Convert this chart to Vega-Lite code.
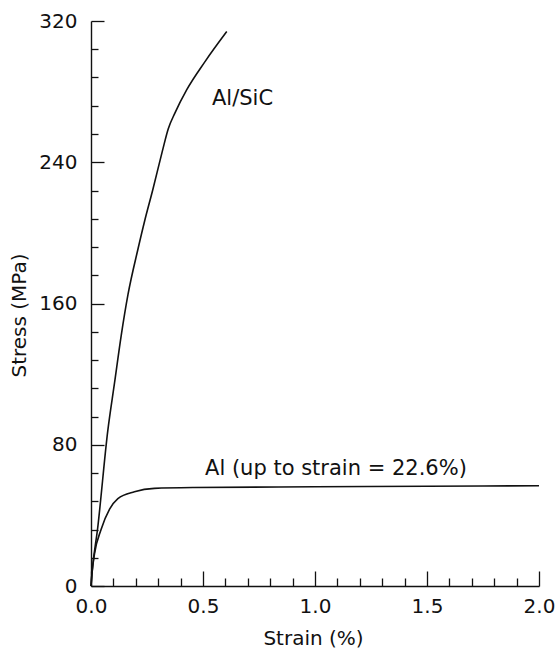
{
  "$schema": "https://vega.github.io/schema/vega-lite/v6.json",
  "width": 448,
  "height": 565,
  "autosize": {"type": "none"},
  "padding": {"left": 91, "top": 21, "right": 19, "bottom": 63},
  "background": "white",
  "config": {
    "view": {"stroke": null},
    "font": "DejaVu Sans",
    "axis": {
      "grid": false,
      "domainColor": "#111",
      "domainWidth": 1.4,
      "tickColor": "#111",
      "tickWidth": 1.3,
      "labelColor": "#111",
      "titleColor": "#111",
      "labelFont": "DejaVu Sans",
      "titleFont": "DejaVu Sans",
      "labelFontSize": 20,
      "titleFontSize": 20,
      "titleFontWeight": "normal",
      "labelFlush": false,
      "labelOverlap": false
    }
  },
  "datasets": {
    "curves": [
      {"material": "Al/SiC", "strain": 0.0, "stress": 0},
      {"material": "Al/SiC", "strain": 0.005, "stress": 8},
      {"material": "Al/SiC", "strain": 0.03, "stress": 33},
      {"material": "Al/SiC", "strain": 0.075, "stress": 88},
      {"material": "Al/SiC", "strain": 0.105, "stress": 115},
      {"material": "Al/SiC", "strain": 0.135, "stress": 142},
      {"material": "Al/SiC", "strain": 0.165, "stress": 165},
      {"material": "Al/SiC", "strain": 0.21, "stress": 191},
      {"material": "Al/SiC", "strain": 0.24, "stress": 207},
      {"material": "Al/SiC", "strain": 0.275, "stress": 224},
      {"material": "Al/SiC", "strain": 0.318, "stress": 246},
      {"material": "Al/SiC", "strain": 0.345, "stress": 259},
      {"material": "Al/SiC", "strain": 0.375, "stress": 268},
      {"material": "Al/SiC", "strain": 0.427, "stress": 281},
      {"material": "Al/SiC", "strain": 0.509, "stress": 297},
      {"material": "Al/SiC", "strain": 0.606, "stress": 314},
      {"material": "Al", "strain": 0.0, "stress": 0},
      {"material": "Al", "strain": 0.005, "stress": 8},
      {"material": "Al", "strain": 0.016, "stress": 18.5},
      {"material": "Al", "strain": 0.045, "stress": 32},
      {"material": "Al", "strain": 0.083, "stress": 43.5},
      {"material": "Al", "strain": 0.12, "stress": 49.5},
      {"material": "Al", "strain": 0.194, "stress": 53.4},
      {"material": "Al", "strain": 0.283, "stress": 55.3},
      {"material": "Al", "strain": 0.46, "stress": 55.8},
      {"material": "Al", "strain": 1.0, "stress": 56.2},
      {"material": "Al", "strain": 1.5, "stress": 56.5},
      {"material": "Al", "strain": 2.0, "stress": 56.8}
    ],
    "labels": [
      {"label": "Al/SiC", "strain": 0.54, "stress": 276},
      {"label": "Al (up to strain = 22.6%)", "strain": 0.509, "stress": 66}
    ]
  },
  "layer": [
    {
      "data": {"name": "curves"},
      "mark": {"type": "line", "color": "#111", "strokeWidth": 1.6, "interpolate": "monotone"},
      "encoding": {
        "x": {
          "field": "strain", "type": "quantitative",
          "scale": {"domain": [0, 2], "nice": false},
          "axis": {
            "values": [0, 0.5, 1, 1.5, 2], "format": ".1f",
            "tickSize": -15, "labelPadding": 25,
            "title": "Strain (%)", "titleX": 222, "titleY": 52,
            "titleBaseline": "middle", "titleAlign": "center"
          }
        },
        "y": {
          "field": "stress", "type": "quantitative",
          "scale": {"domain": [0, 320], "nice": false},
          "axis": {
            "values": [0, 80, 160, 240, 320],
            "tickSize": -13, "labelPadding": 27,
            "title": "Stress (MPa)", "titleX": -72, "titleY": 294,
            "titleAngle": -90, "titleBaseline": "middle", "titleAlign": "center"
          }
        },
        "detail": {"field": "material", "type": "nominal"}
      }
    },
    {
      "data": {"name": "labels"},
      "mark": {"type": "text", "align": "left", "baseline": "middle", "fontSize": 21, "font": "DejaVu Sans", "color": "#111"},
      "encoding": {
        "x": {
          "field": "strain", "type": "quantitative",
          "axis": {
            "orient": "bottom",
            "values": [0.1, 0.2, 0.3, 0.4, 0.6, 0.7, 0.8, 0.9, 1.1, 1.2, 1.3, 1.4, 1.6, 1.7, 1.8, 1.9],
            "tickSize": -8, "labels": false, "domain": false, "title": null
          }
        },
        "y": {
          "field": "stress", "type": "quantitative",
          "axis": {
            "orient": "left",
            "values": [16, 32, 48, 64, 96, 112, 128, 144, 176, 192, 208, 224, 256, 272, 288, 304],
            "tickSize": -7, "labels": false, "domain": false, "title": null
          }
        },
        "text": {"field": "label", "type": "nominal"}
      }
    }
  ],
  "resolve": {"axis": {"x": "independent", "y": "independent"}}
}
